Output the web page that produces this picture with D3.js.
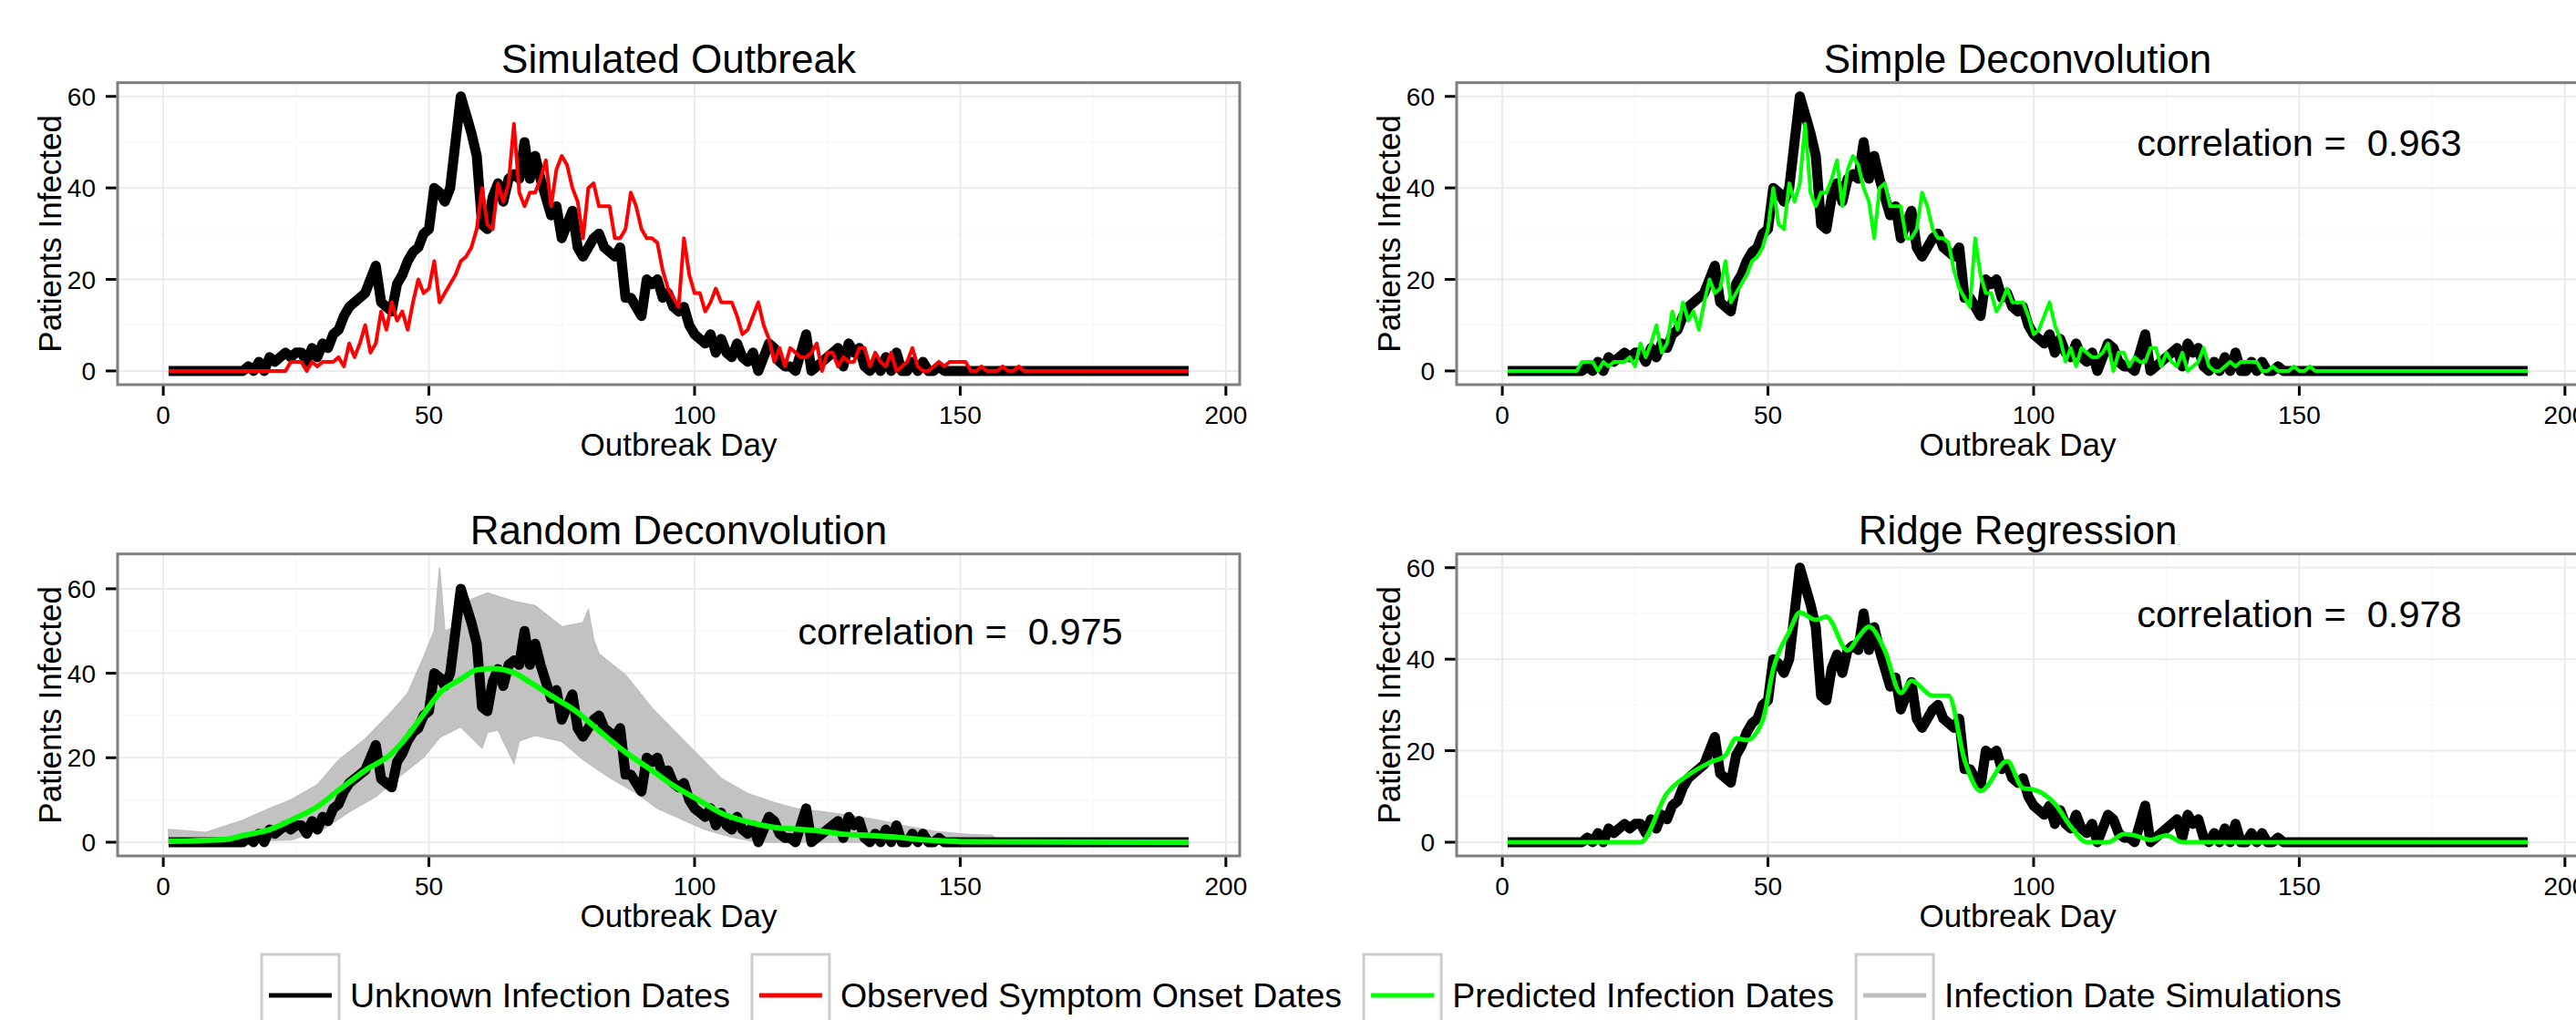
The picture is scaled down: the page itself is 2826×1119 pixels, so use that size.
<!DOCTYPE html>
<html>
<head>
<meta charset="utf-8">
<script src="https://cdn.jsdelivr.net/npm/d3@7"></script>
<style>
  body { margin: 0; background: #fff; }
  svg { display: block; font-family: "Liberation Sans", Arial, sans-serif; }
</style>
</head>
<body>
<div id="chart"></div>
<script>
// ---- data ----
const firstDay = 1, lastDay = 193;

// Unknown infection dates (black), one value per day 1..193
const unknownInfections = [
  0,0,0,0,0,0,0,0,0,0,0,0,0,0,0,
  1,0,2,0,3,2,3,4,3,4,
  4,2,5,3,6,5,8,9,12,14,
  15,16,17,20,23,15,14,13,19,21,
  24,26,27,30,31,40,39,37,40,50,
  60,56,52,47,32,31,38,41,37,42,
  43,42,50,42,47,42,38,34,36,29,
  32,35,27,25,27,29,30,27,26,25,
  27,16,16,14,12,20,19,20,16,17,
  14,13,14,10,8,7,6,8,4,7,
  4,3,6,3,2,4,0,3,6,5,
  2,1,1,0,4,8,0,1,2,3,
  4,5,1,6,4,5,1,0,2,0,
  3,0,4,0,0,2,0,2,0,0,
  1,0,
  0,0,0,0,0,0,0,0,0,0,0,0,0,0,0,0,0,0,0,0,0,0,0,
  0,0,0,0,0,0,0,0,0,0,0,0,0,0,0,0,0,0,0,0,0,0,0
];

// Observed symptom onset dates (red), day 1..193
const observedOnsets = [
  0,0,0,0,0,0,0,0,0,0,0,0,0,0,0,0,0,0,0,0,0,0,0,
  2,2,2,0,2,1,2,2,2,3,1,6,
  3,6,10,4,6,13,9,15,11,13,9,15,20,17,18,
  24,15,17,19,21,24,25,27,31,40,
  32,31,41,37,41,54,39,36,39,39,
  42,46,36,44,47,45,40,37,29,40,
  41,36,36,36,29,29,31,39,36,31,
  29,29,28,22,18,16,14,29,21,17,
  17,13,15,18,15,15,15,12,8,9,
  12,15,10,7,2,5,1,5,4,3,
  3,4,6,0,4,4,1,3,2,2,
  5,5,1,4,2,1,4,0,1,2,
  5,1,0,0,1,2,1,2,2,2,
  2,0,0,1,0,0,0,1,0,0,
  1,
  0,0,0,0,0,0,0,0,0,0,0,0,0,0,0,0,
  0,0,0,0,0,0,0,0,0,0,0,0,0,0,0,0
];

// Simple deconvolution prediction (green), day 1..193
const simplePredicted = [
  0,0,0,0,0,0,0,0,0,0,0,0,0,0,
  2,2,2,0,2,1,2,2,2,3,1,6,
  3,6,10,4,6,13,9,15,11,13,9,15,20,17,18,
  24,15,17,19,21,24,25,27,31,40,
  32,31,41,37,41,54,39,36,39,39,
  42,46,36,44,47,45,40,37,29,40,
  41,36,36,36,29,29,31,39,36,31,
  29,29,28,22,18,16,14,29,21,17,
  17,13,15,18,15,15,15,12,8,9,
  12,15,10,7,2,5,1,5,4,3,
  3,4,6,0,4,4,1,3,2,2,
  5,5,1,4,2,1,4,0,1,2,
  5,1,0,0,1,2,1,2,2,2,
  2,0,0,1,0,0,0,1,0,0,
  1,
  0,0,0,0,0,0,0,0,0,0,0,0,0,0,0,0,0,0,0,0,
  0,0,0,0,0,0,0,0,0,0,0,0,0,0,0,0,0,0,0,0,0
];

// Random deconvolution mean (green), read at these days
const randomDays   = [1,12,15,20,24,29,33,38,43,46,49,52,56,59,62,66,69,73,78,82,87,92,96,101,105,110,115,119,124,128,133,138,142,147,151,193];
const randomValues = [0.2,0.7,1.6,3,5.2,8.4,12.3,17,21,25.2,30.3,35.3,38.6,40.8,41.1,40.1,37.9,34.7,30.7,26.4,21.3,17,13.4,9.8,6.9,4.8,3.5,3.1,2.6,1.9,1.6,1.2,0.7,0.3,0.1,0];

// Spread of the infection date simulations (grey), upper and lower edge
const simUpperDays   = [1,8,15,20,24,29,33,38,43,46,49,51,52,53,55,58,61,66,70,75,79,80,81,82,87,92,96,101,105,110,115,119,124,130,135,139,145,151,156,157];
const simUpperValues = [3,2.3,5.2,8,10,13.6,19.4,24.4,30.9,35.2,43.8,50,65,50,51,57.5,59,57,56,51,52,55,48,44.6,39.6,31.7,26.6,20.2,15.1,11.5,9.4,8,7.2,6.2,5.1,4,2.6,1.9,1.6,0.5];
const simLowerDays   = [1,24,30,35,40,44,49,52,56,60,61,63,66,67,70,75,79,84,89,93,98,102,107,112,157];
const simLowerValues = [0,0.5,3,7.2,10.8,15.1,20.1,24.8,27.3,22.3,26,26.6,18.7,24,25.3,23.9,19.6,15.3,11.7,8,5.2,3,1.2,0,0];

// Ridge regression prediction (green), read at these days
const ridgeDays   = [1,26,31,35,39,42,44,46,49,51,54,56,59,61,65,67,69,72,75,77,81,84,87,90,95,98,100,104,107,110,114,117,119,122,125,128,193];
const ridgeValues = [0,0,10.7,14.7,17.4,19,22.7,22.3,26.6,37.9,46,50.2,48.6,49.3,41.9,44.8,47.1,41.9,32.6,35.3,32,32,18,11.2,17.7,11.8,11.5,8.4,3.4,0,0,1.8,1.5,0.5,1.5,0,0];

const panelTitles = ["Simulated Outbreak", "Simple Deconvolution", "Random Deconvolution", "Ridge Regression"];
const correlations = [null, "0.963", "0.975", "0.978"];
const xTicks = [0, 50, 100, 150, 200];
const xMinorTicks = [25, 75, 125, 175];
const yTicks = [0, 20, 40, 60];
const yMinorTicks = [10, 30, 50];
const legendLabels = ["Unknown Infection Dates", "Observed Symptom Onset Dates", "Predicted Infection Dates", "Infection Date Simulations"];
const legendColors = ["#000000", "#ff0000", "#00ff00", "#bebebe"];

// ---- layout ----
const W = 2826, H = 1119;
const panelW = 1231, panelH = 331.3;
const days = d3.range(firstDay, lastDay + 1);

const svg = d3.select("#chart").append("svg")
  .attr("width", W)
  .attr("height", H)
  .attr("viewBox", [0, 0, W, H]);

svg.append("rect").attr("width", W).attr("height", H).attr("fill", "#fff");

function drawPanel(cfg) {
  const x = d3.scaleLinear().domain([-8.6, 202.6]).range([cfg.left, cfg.left + panelW]);
  const y = d3.scaleLinear().domain(cfg.yDomain).range([cfg.top + panelH, cfg.top]);
  const g = svg.append("g");

  // grid, minor first
  g.append("g").selectAll("line").data(xMinorTicks).join("line")
    .attr("x1", d => x(d)).attr("x2", d => x(d))
    .attr("y1", cfg.top).attr("y2", cfg.top + panelH)
    .attr("stroke", "#fafafa").attr("stroke-width", 2);
  g.append("g").selectAll("line").data(yMinorTicks).join("line")
    .attr("x1", cfg.left).attr("x2", cfg.left + panelW)
    .attr("y1", d => y(d)).attr("y2", d => y(d))
    .attr("stroke", "#fafafa").attr("stroke-width", 2);
  g.append("g").selectAll("line").data(xTicks).join("line")
    .attr("x1", d => x(d)).attr("x2", d => x(d))
    .attr("y1", cfg.top).attr("y2", cfg.top + panelH)
    .attr("stroke", "#ebebeb").attr("stroke-width", 2);
  g.append("g").selectAll("line").data(yTicks).join("line")
    .attr("x1", cfg.left).attr("x2", cfg.left + panelW)
    .attr("y1", d => y(d)).attr("y2", d => y(d))
    .attr("stroke", "#ebebeb").attr("stroke-width", 2);

  const dayLine = d3.line().x((v, i) => x(days[i])).y(v => y(v));
  const knotLine = d3.line().x(d => x(d[0])).y(d => y(d[1])).curve(d3.curveMonotoneX);

  // grey simulation band
  if (cfg.band) {
    const upper = simUpperDays.map((d, i) => [d, simUpperValues[i]]);
    const lower = simLowerDays.map((d, i) => [d, simLowerValues[i]]).reverse();
    g.append("path")
      .attr("d", d3.line().x(d => x(d[0])).y(d => y(d[1])).curve(d3.curveLinearClosed)(upper.concat(lower)))
      .attr("fill", "#c2c2c2").attr("stroke", "#bebebe").attr("stroke-width", 1.5);
  }

  // true infections, thick black
  g.append("path").attr("d", dayLine(unknownInfections))
    .attr("fill", "none").attr("stroke", "#000").attr("stroke-width", 11)
    .attr("stroke-linejoin", "round");

  if (cfg.series === "red") {
    g.append("path").attr("d", dayLine(observedOnsets))
      .attr("fill", "none").attr("stroke", "#ff0000").attr("stroke-width", 4)
      .attr("stroke-linejoin", "round");
  } else if (cfg.series === "simple") {
    g.append("path").attr("d", dayLine(simplePredicted))
      .attr("fill", "none").attr("stroke", "#00ff00").attr("stroke-width", 4)
      .attr("stroke-linejoin", "round");
  } else if (cfg.series === "random") {
    g.append("path").attr("d", knotLine(randomDays.map((d, i) => [d, randomValues[i]])))
      .attr("fill", "none").attr("stroke", "#00ff00").attr("stroke-width", 6);
  } else if (cfg.series === "ridge") {
    g.append("path").attr("d", knotLine(ridgeDays.map((d, i) => [d, ridgeValues[i]])))
      .attr("fill", "none").attr("stroke", "#00ff00").attr("stroke-width", 5);
  }

  // panel border
  g.append("rect")
    .attr("x", cfg.left).attr("y", cfg.top)
    .attr("width", panelW).attr("height", panelH)
    .attr("fill", "none").attr("stroke", "#7f7f7f").attr("stroke-width", 3);

  // x ticks + labels
  const bottom = cfg.top + panelH;
  g.append("g").selectAll("line").data(xTicks).join("line")
    .attr("x1", d => x(d)).attr("x2", d => x(d))
    .attr("y1", bottom + 1.5).attr("y2", bottom + 12)
    .attr("stroke", "#000").attr("stroke-width", 3);
  g.append("g").selectAll("text").data(xTicks).join("text")
    .attr("x", d => x(d)).attr("y", bottom + 43)
    .attr("text-anchor", "middle").attr("font-size", 28)
    .text(d => d);

  // y ticks + labels
  g.append("g").selectAll("line").data(yTicks).join("line")
    .attr("x1", cfg.left - 13).attr("x2", cfg.left - 1.5)
    .attr("y1", d => y(d)).attr("y2", d => y(d))
    .attr("stroke", "#000").attr("stroke-width", 3);
  g.append("g").selectAll("text").data(yTicks).join("text")
    .attr("x", cfg.left - 24).attr("y", d => y(d) + 10)
    .attr("text-anchor", "end").attr("font-size", 28)
    .text(d => d);

  // titles
  g.append("text")
    .attr("x", cfg.left + panelW / 2).attr("y", cfg.top - 11)
    .attr("text-anchor", "middle").attr("font-size", 44)
    .text(cfg.title);
  g.append("text")
    .attr("x", cfg.left + panelW / 2).attr("y", bottom + 78)
    .attr("text-anchor", "middle").attr("font-size", 35)
    .text("Outbreak Day");
  g.append("text")
    .attr("transform", `translate(${cfg.left - 62},${cfg.top + panelH / 2}) rotate(-90)`)
    .attr("text-anchor", "middle").attr("font-size", 35)
    .text("Patients Infected");

  if (cfg.corr) {
    g.append("text")
      .attr("x", x(150)).attr("y", y(50) + 15)
      .attr("text-anchor", "middle").attr("font-size", 41.5)
      .style("white-space", "pre")
      .text("correlation =  " + cfg.corr);
  }
}

drawPanel({ title: panelTitles[0], left: 129, top: 90.7, yDomain: [-3, 63], series: "red", corr: correlations[0] });
drawPanel({ title: panelTitles[1], left: 1598, top: 90.7, yDomain: [-3, 63], series: "simple", corr: correlations[1] });
drawPanel({ title: panelTitles[2], left: 129, top: 607.7, yDomain: [-3.25, 68.25], series: "random", band: true, corr: correlations[2] });
drawPanel({ title: panelTitles[3], left: 1598, top: 607.7, yDomain: [-3, 63], series: "ridge", corr: correlations[3] });

// ---- legend ----
const legend = svg.append("g");
let lx = 287;
legendLabels.forEach((label, i) => {
  legend.append("rect")
    .attr("x", lx).attr("y", 1047).attr("width", 85).attr("height", 85)
    .attr("fill", "#fff").attr("stroke", "#cccccc").attr("stroke-width", 3);
  legend.append("line")
    .attr("x1", lx + 8).attr("x2", lx + 77)
    .attr("y1", 1092).attr("y2", 1092)
    .attr("stroke", legendColors[i]).attr("stroke-width", 5);
  const t = legend.append("text")
    .attr("x", lx + 97).attr("y", 1105)
    .attr("font-size", 37.5)
    .text(label);
  lx += 97 + t.node().getComputedTextLength() + 24;
});
</script>
</body>
</html>
